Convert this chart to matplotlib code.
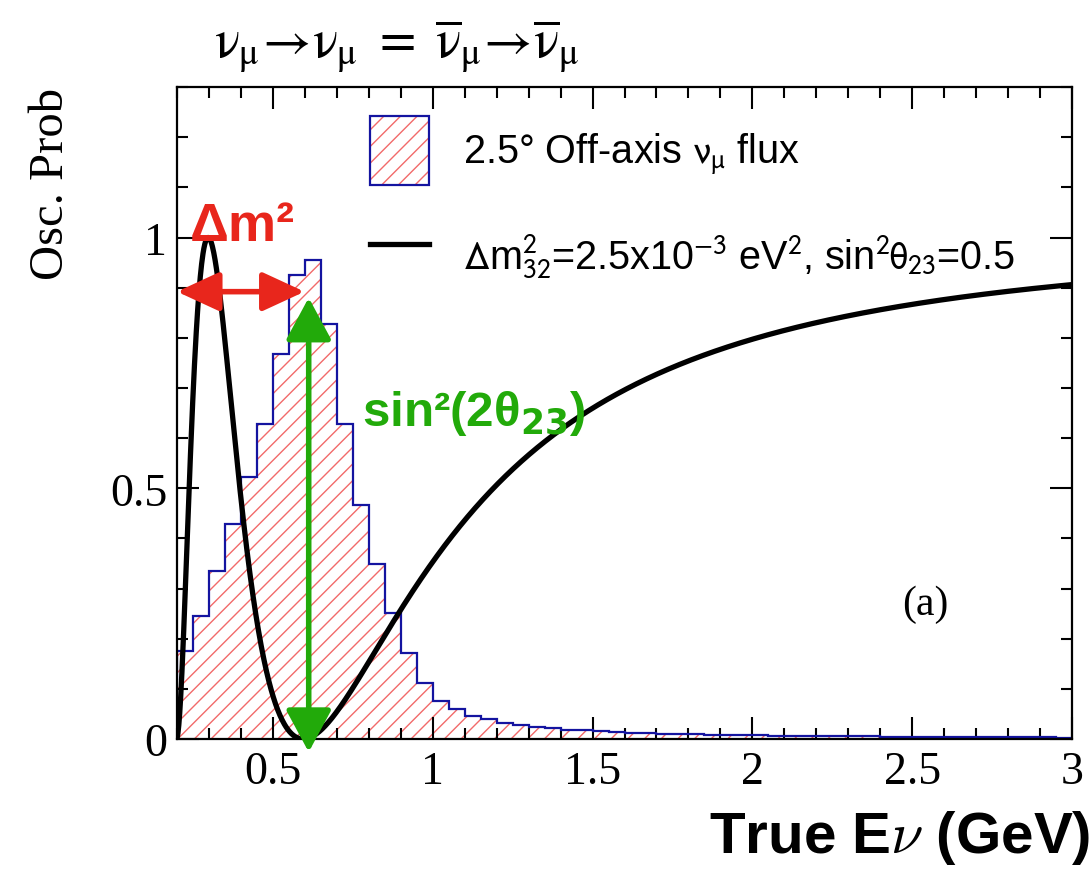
import numpy as np
import matplotlib
matplotlib.use("Agg")
import matplotlib.pyplot as plt
from matplotlib.patches import Patch
from matplotlib.lines import Line2D
from matplotlib.legend_handler import HandlerTuple
from matplotlib.ticker import MultipleLocator

plt.rcParams.update({
    "font.family": ["Liberation Serif", "DejaVu Serif"],
    "mathtext.fontset": "stix",
    "hatch.linewidth": 1.0,
    "axes.linewidth": 1.6,
})

# 2.5 deg off-axis nu_mu flux, arbitrary normalisation (bin edges 0.05 GeV from 0.15 GeV)
FLUX_LOW_EDGE = 0.15
FLUX_BIN_WIDTH = 0.05
FLUX = [0.12,
        0.175, 0.246, 0.336, 0.429, 0.523, 0.629, 0.768, 0.925, 0.956, 0.827,
        0.629, 0.466, 0.349, 0.251, 0.171, 0.112, 0.076, 0.059, 0.045, 0.039,
        0.031, 0.028, 0.024, 0.021, 0.018, 0.017, 0.016, 0.014, 0.013, 0.012,
        0.011, 0.010, 0.010, 0.009, 0.009, 0.008, 0.008, 0.007, 0.007, 0.007,
        0.006, 0.006, 0.006, 0.006, 0.005, 0.005, 0.005, 0.005, 0.005, 0.004,
        0.004, 0.004, 0.004, 0.004, 0.004, 0.003]

# oscillation parameters quoted in the legend
DM2_32 = 2.5e-3       # eV^2
SIN2_THETA23 = 0.5
BASELINE_KM = 295.0

RED = "#e8261c"
GREEN = "#22aa0a"
NAVY = "#1414a0"
HATCH_RED = "#f26a6a"

edges = FLUX_LOW_EDGE + FLUX_BIN_WIDTH * np.arange(len(FLUX) + 1)
E = np.linspace(0.2, 3.0, 2000)
sin2_2theta = 4 * SIN2_THETA23 * (1 - SIN2_THETA23)
P = 1 - sin2_2theta * np.sin(1.267 * DM2_32 * BASELINE_KM / E) ** 2

fig = plt.figure(figsize=(10.92, 8.70), dpi=100)
ax = fig.add_axes([0.1621, 0.1494, 0.8196, 0.7494])

ax.stairs(FLUX, edges, fill=True, facecolor="none", edgecolor=HATCH_RED,
          hatch="//", linewidth=0, zorder=1)
ax.stairs(FLUX, edges, fill=False, edgecolor=NAVY, linewidth=1.6, zorder=2)
ax.plot(E, P, color="black", lw=3.8, zorder=3)

ax.set_xlim(0.2, 3.0)
ax.set_ylim(0, 1.3)
ax.xaxis.set_minor_locator(MultipleLocator(0.1))
ax.yaxis.set_minor_locator(MultipleLocator(0.1))
ax.set_xticks([0.5, 1, 1.5, 2, 2.5, 3])
ax.set_xticklabels(["0.5", "1", "1.5", "2", "2.5", "3"])
ax.set_yticks([0, 0.5, 1])
ax.set_yticklabels(["0", "0.5", "1"])
ax.tick_params(which="both", direction="in", top=True, right=True, width=1.5,
               labelsize=33)
ax.tick_params(which="major", length=16)
ax.tick_params(which="minor", length=8)
ax.tick_params(axis="x", pad=8)
ax.tick_params(axis="y", pad=7)

# legend
h_flux = (Patch(facecolor="none", edgecolor=HATCH_RED, hatch="//", lw=0),
          Patch(facecolor="none", edgecolor=NAVY, lw=1.6))
ax.legend([h_flux, Line2D([], [], color="black", lw=3.8)],
          [r"2.5° Off-axis $\mathrm{\nu}_{\mathrm{\mu}}$ flux",
           r"$\Delta$m$^{2}_{32}$=2.5x10$^{-3}$ eV$^{2}$, sin$^{2}\mathrm{\theta}_{23}$=0.5"],
          handler_map={tuple: HandlerTuple(ndivide=1)},
          loc="upper left", bbox_to_anchor=(0.2156, 0.955), frameon=False,
          borderpad=0, borderaxespad=0, handlelength=1.5, handleheight=2.3,
          handletextpad=0.85, labelspacing=0.9,
          prop=dict(family="Liberation Sans", size=28.5, math_fontfamily="stixsans"))

# annotations
ax.text(0.2394, 0.996, "Δm²", color=RED, fontsize=39, fontweight="bold",
        family=["Liberation Sans", "DejaVu Sans"], ha="left", va="baseline", zorder=5)
ax.annotate("", xy=(0.2, 0.892), xytext=(0.599, 0.892),
            arrowprops=dict(arrowstyle="<|-|>,head_length=1.3,head_width=0.6",
                            mutation_scale=20, color=RED, lw=4.0, shrinkA=0, shrinkB=0),
            annotation_clip=False, zorder=5)
ax.annotate("", xy=(0.612, 0.88), xytext=(0.612, -0.026),
            arrowprops=dict(arrowstyle="<|-|>,head_length=1.3,head_width=0.7",
                            mutation_scale=20, color=GREEN, lw=4.0, shrinkA=0, shrinkB=0),
            annotation_clip=False, zorder=5)
ax.text(0.778, 0.626, r"sin²(2θ$_{\mathbf{23}}$)", color=GREEN, fontsize=35.5,
        fontweight="bold", family=["Liberation Sans", "DejaVu Sans"],
        math_fontfamily="dejavusans", ha="left", va="baseline", zorder=5)

ax.text(2.54, 0.27, "(a)", fontsize=30, ha="center", va="center")

fig.text(397 / 1092, 1 - 46 / 870,
         r"$\mathrm{\nu_{\mu}\!\rightarrow\!\nu_{\mu}\ =\ \overline{\nu}_{\mu}\!\rightarrow\!\overline{\nu}_{\mu}}$",
         fontsize=38, ha="center", va="center")
fig.text(51 / 1092, 1 - 88 / 870, "Osc. Prob", rotation=90, fontsize=35,
         ha="center", va="top")
fig.text(1090 / 1092, 1 - 853 / 870, r"True E$\nu$ (GeV)", fontsize=42, fontweight="bold",
         family="Liberation Sans", math_fontfamily="cm", ha="right", va="baseline")

fig.savefig("out.png", dpi=100)
